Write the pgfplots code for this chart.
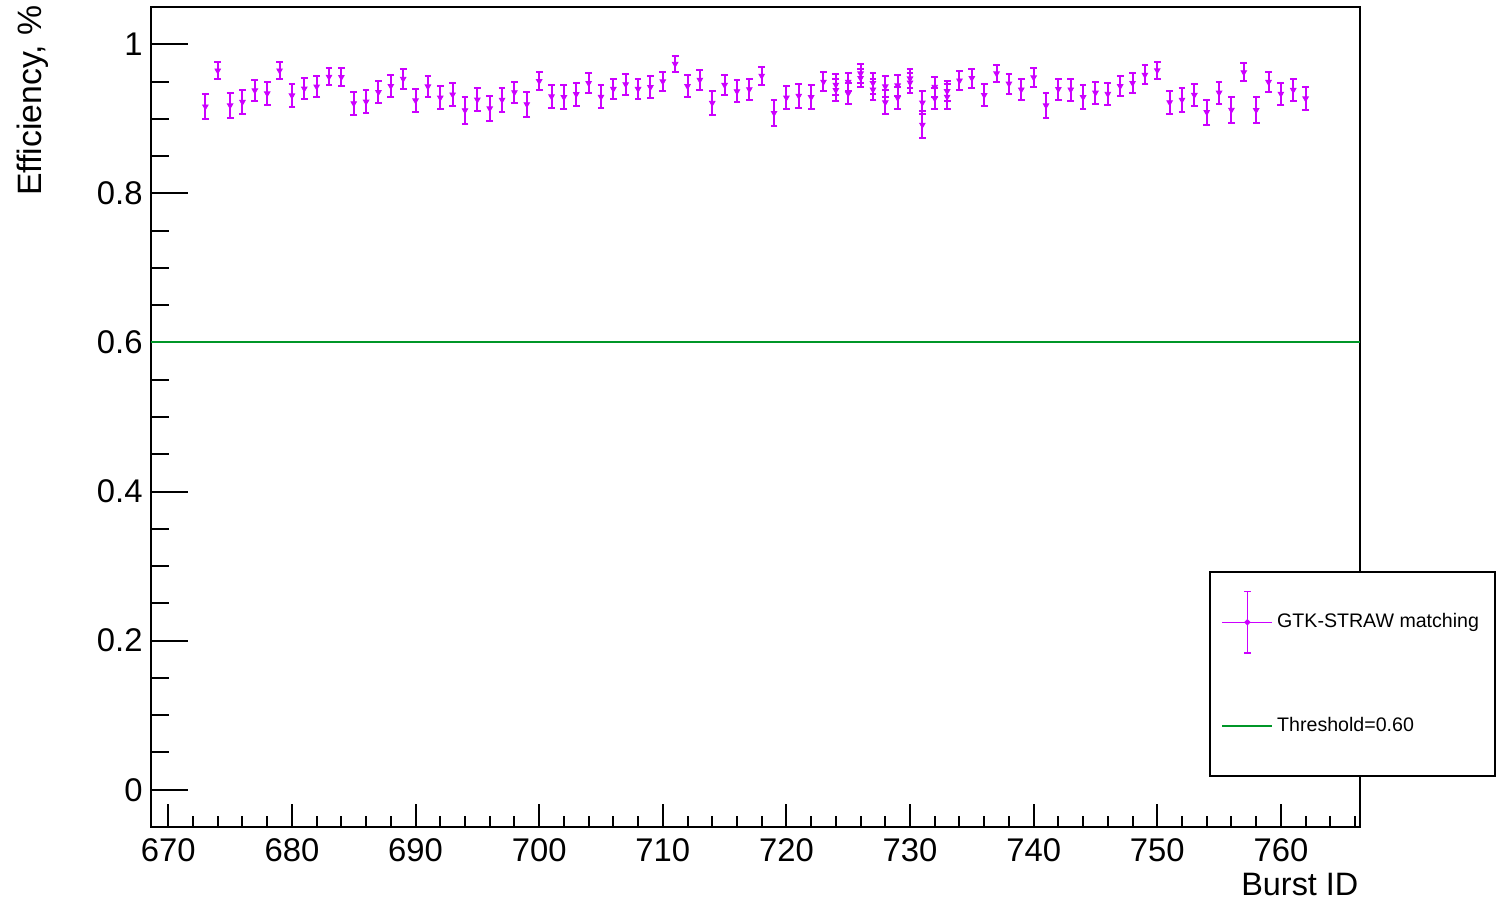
\documentclass[border=0pt]{standalone}
\usepackage{fontspec}
\setmainfont{Liberation Sans}
\usepackage{pgfplots}
\pgfplotsset{compat=1.18}
\usepackage{pgfplotstable}

\definecolor{mag}{RGB}{204,0,255}
\definecolor{thr}{RGB}{0,150,40}

% burst, efficiency, error (two entries for some bursts)
\pgfplotstableread{
x y e
673 0.9165 0.0170
674 0.9647 0.0116
675 0.9180 0.0168
676 0.9226 0.0160
677 0.9380 0.0140
678 0.9340 0.0154
679 0.9648 0.0114
680 0.9313 0.0154
681 0.9405 0.0143
682 0.9432 0.0143
683 0.9563 0.0116
684 0.9560 0.0123
685 0.9208 0.0157
686 0.9230 0.0152
687 0.9358 0.0150
688 0.9440 0.0148
689 0.9536 0.0130
690 0.9246 0.0154
691 0.9434 0.0136
692 0.9284 0.0157
693 0.9326 0.0154
694 0.9114 0.0179
695 0.9257 0.0157
696 0.9139 0.0168
697 0.9255 0.0159
698 0.9356 0.0139
699 0.9195 0.0170
700 0.9505 0.0123
701 0.9300 0.0154
702 0.9290 0.0157
703 0.9330 0.0154
704 0.9480 0.0130
705 0.9295 0.0152
706 0.9400 0.0139
707 0.9463 0.0139
708 0.9400 0.0139
709 0.9425 0.0145
710 0.9501 0.0128
711 0.9736 0.0107
712 0.9438 0.0150
713 0.9523 0.0130
714 0.9213 0.0166
715 0.9454 0.0139
716 0.9369 0.0148
717 0.9396 0.0139
718 0.9577 0.0119
719 0.9078 0.0175
720 0.9284 0.0157
721 0.9309 0.0163
722 0.9290 0.0163
723 0.9497 0.0128
724 0.9456 0.0139
724 0.9385 0.0145
725 0.9497 0.0123
725 0.9340 0.0145
726 0.9608 0.0123
726 0.9546 0.0119
727 0.9480 0.0141
727 0.9392 0.0139
728 0.9434 0.0141
728 0.9221 0.0161
729 0.9447 0.0141
729 0.9280 0.0152
730 0.9541 0.0123
730 0.9486 0.0134
731 0.9217 0.0157
731 0.8920 0.0183
732 0.9428 0.0134
732 0.9273 0.0145
733 0.9370 0.0134
733 0.9295 0.0168
734 0.9513 0.0130
735 0.9546 0.0128
736 0.9318 0.0145
737 0.9608 0.0119
738 0.9472 0.0134
739 0.9392 0.0143
740 0.9555 0.0128
741 0.9180 0.0168
742 0.9399 0.0141
743 0.9392 0.0148
744 0.9290 0.0163
745 0.9350 0.0150
746 0.9334 0.0152
747 0.9438 0.0136
748 0.9480 0.0136
749 0.9590 0.0128
750 0.9650 0.0112
751 0.9221 0.0157
752 0.9255 0.0159
753 0.9320 0.0152
754 0.9090 0.0168
755 0.9350 0.0145
756 0.9120 0.0172
757 0.9624 0.0121
758 0.9117 0.0172
759 0.9494 0.0134
760 0.9336 0.0145
761 0.9387 0.0143
762 0.9273 0.0154
}\effdata

\pgfplotsset{
  rootframe/.style={
    scale only axis,
    width=604.5pt, height=410pt,
    xmin=668.6, xmax=766.4,
    ymin=-0.05, ymax=1.05,
    tick align=inside,
    every tick/.style={black, line width=1pt},
    ticklabel style={font=\fontsize{16.4}{19}\selectfont, inner sep=0pt},
    /pgf/number format/assume math mode=true,
  }
}

\begin{document}
\begin{tikzpicture}
\begin{axis}[
  rootframe, name=ax,
  axis line style={line width=1pt},
  xtick=\empty,
  ytick={0,0.2,0.4,0.6,0.8,1},
  minor ytick={0.05,0.1,0.15,0.25,0.3,0.35,0.45,0.5,0.55,0.65,0.7,0.75,0.85,0.9,0.95,1.05},
  ytick pos=left,
  major tick length=18.5pt, minor tick length=9pt,
  yticklabel style={xshift=-4pt},
  ylabel={Efficiency, \%},
  ylabel style={at={(axis description cs:-0.0845,1.0024)}, anchor=south east,
    inner sep=0pt, font=\fontsize{16.9}{19}\selectfont},
  legend style={at={(0.8751,0.3122)}, anchor=north west, draw=black,
    line width=1pt, fill=white, font=\fontsize{9.8}{12}\selectfont,
    inner xsep=5.8pt, inner ysep=9.5pt, row sep=21pt,
    /tikz/every even column/.append style={column sep=5.6pt}},
  legend cell align=left,
]
\addplot+[only marks, mag, mark=triangle*,
  mark options={rotate=180, fill=mag, draw=mag, mark size=1.6pt},
  legend image code/.code={
    \draw[mag, line width=0.7pt] (0pt,0pt) -- (25pt,0pt);
    \draw[mag, line width=0.7pt] (12.5pt,-15.3pt) -- (12.5pt,15.3pt);
    \draw[mag, line width=0.7pt] (10.8pt,15.3pt) -- (14.2pt,15.3pt);
    \draw[mag, line width=0.7pt] (10.8pt,-15.3pt) -- (14.2pt,-15.3pt);
    \fill[mag] (12.5pt,0pt) circle (0.9pt);},
  error bars/.cd, y dir=both, y explicit,
  error mark=|,
  error bar style={line width=1pt, mag},
  error mark options={mark size=1.7pt, line width=1pt, mag},
  ] table[x=x, y=y, y error=e] {\effdata};
\addlegendentry{GTK-STRAW matching}
\addplot[thr, line width=1pt,
  legend image code/.code={
    \draw[thr, line width=0.8pt] (0pt,0pt) -- (25pt,0pt);
    \path[draw=none] (0pt,-15.3pt) -- (0pt,15.3pt);}]
  coordinates {(668.6,0.6) (766.4,0.6)};
\addlegendentry{Threshold=0.60}
\end{axis}
\begin{axis}[
  rootframe,
  axis line style={draw=none},
  ytick=\empty,
  xtick={670,680,...,760},
  minor xtick={672,674,676,678,682,684,686,688,692,694,696,698,702,704,706,708,
    712,714,716,718,722,724,726,728,732,734,736,738,742,744,746,748,
    752,754,756,758,762,764,766},
  xtick pos=left,
  major tick length=11.5pt, minor tick length=5.5pt,
  xticklabel style={yshift=-5.5pt, anchor=north},
  xlabel={Burst ID},
  xlabel style={at={(axis description cs:0.999,-0.0561)}, anchor=north east,
    inner sep=0pt, font=\fontsize{16.2}{19}\selectfont},
]
\end{axis}
\pgfresetboundingbox
\path ([xshift=-75.5pt,yshift=-37pt]ax.south west) rectangle ([xshift=69pt,yshift=3.5pt]ax.north east);
\end{tikzpicture}
\end{document}
